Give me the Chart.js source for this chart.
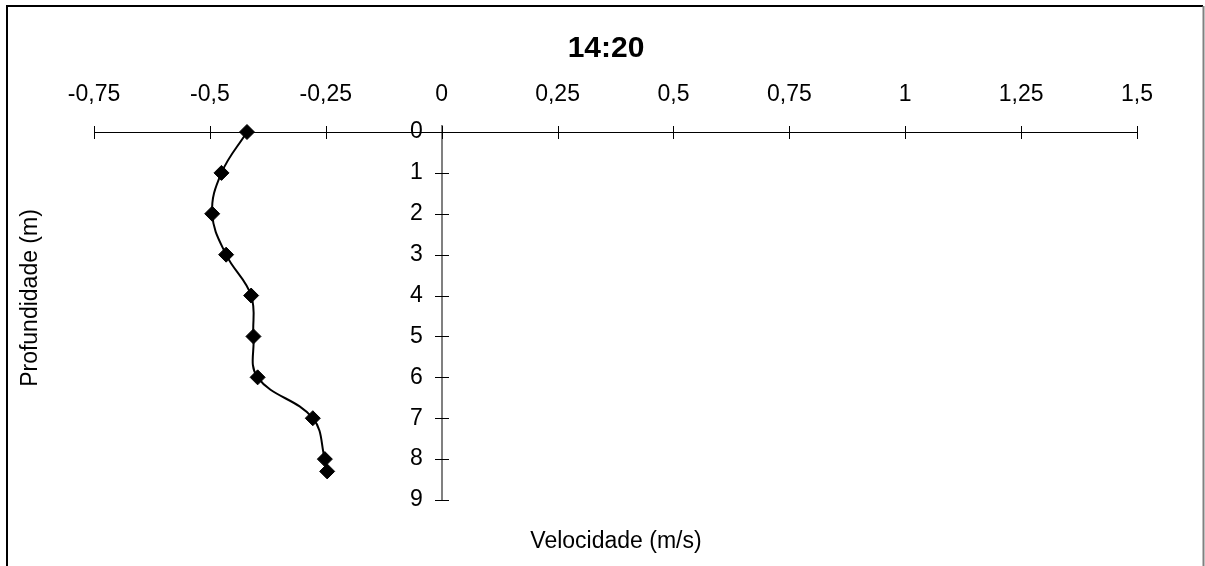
<!DOCTYPE html>
<html>
<head>
<meta charset="utf-8">
<script src="https://cdn.jsdelivr.net/npm/chart.js@4/dist/chart.umd.min.js"></script>
<style>
  html, body { margin: 0; padding: 0; background: #fff; }
  #wrap { width: 1205px; height: 566px; position: relative; }
</style>
</head>
<body>
<div id="wrap"><canvas id="c" width="1205" height="566"></canvas></div>
<script>
// ---- data ----
const chartTitle = '14:20';
const xAxisTitle = 'Velocidade (m/s)';
const yAxisTitle = 'Profundidade (m)';
const depth = [0, 1, 2, 3, 4, 5, 6, 7, 8, 8.3];
const velocity = [-0.42, -0.475, -0.495, -0.465, -0.411, -0.406, -0.397, -0.278, -0.252, -0.247];
const xTickValues = [-0.75, -0.5, -0.25, 0, 0.25, 0.5, 0.75, 1, 1.25, 1.5];
const xTickLabels = ['-0,75', '-0,5', '-0,25', '0', '0,25', '0,5', '0,75', '1', '1,25', '1,5'];
const yTickValues = [0, 1, 2, 3, 4, 5, 6, 7, 8, 9];
const yTickLabels = ['0', '1', '2', '3', '4', '5', '6', '7', '8', '9'];

const FONT = 'Liberation Sans, Arial, sans-serif';
const TICK_FONT_SIZE = 23;

const points = depth.map((d, i) => ({ x: velocity[i], y: d }));

const decorPlugin = {
  id: 'decor',
  afterLayout(chart) {
    // place y tick labels to the left of the axis (object-positioned axes ignore padding)
    const ys = chart.scales.y;
    const items = ys.getLabelItems(chart.chartArea);
    items.forEach(it => { it.options.translation[0] -= 19; });
  },
  beforeDraw(chart) {
    const ctx = chart.ctx;
    ctx.save();
    ctx.fillStyle = '#fff';
    ctx.fillRect(0, 0, chart.width, chart.height);
    // frame
    ctx.lineWidth = 2;
    ctx.strokeStyle = '#000';
    ctx.beginPath();
    ctx.moveTo(7, 566);
    ctx.lineTo(7, 6);
    ctx.lineTo(1203, 6);
    ctx.stroke();
    ctx.strokeStyle = '#808080';
    ctx.beginPath();
    ctx.moveTo(1203.5, 6);
    ctx.lineTo(1203.5, 566);
    ctx.stroke();
    // title
    ctx.fillStyle = '#000';
    ctx.font = 'bold 30px ' + FONT;
    ctx.textAlign = 'center';
    ctx.textBaseline = 'alphabetic';
    ctx.fillText(chartTitle, 606, 57);
    ctx.restore();
  },
  afterDraw(chart) {
    const ctx = chart.ctx;
    const xs = chart.scales.x, ys = chart.scales.y;
    const x0 = Math.round(xs.getPixelForValue(0));
    const yTop = Math.round(ys.getPixelForValue(0));
    ctx.save();
    // y axis line extension above the x axis
    ctx.strokeStyle = '#808080';
    ctx.lineWidth = 2;
    ctx.beginPath();
    ctx.moveTo(x0, yTop - 7);
    ctx.lineTo(x0, yTop);
    ctx.stroke();
    ctx.strokeStyle = '#000';
    ctx.lineWidth = 1;
    // x tick marks (cross)
    xs.ticks.forEach(t => {
      const px = Math.round(xs.getPixelForValue(t.value)) + 0.5;
      ctx.beginPath();
      ctx.moveTo(px, yTop - 6);
      ctx.lineTo(px, yTop + 7);
      ctx.stroke();
    });
    // y tick marks (cross)
    ys.ticks.forEach(t => {
      const py = Math.round(ys.getPixelForValue(t.value)) + 0.5;
      ctx.beginPath();
      ctx.moveTo(x0 - 7, py);
      ctx.lineTo(x0 + 7, py);
      ctx.stroke();
    });
    // axis titles
    ctx.fillStyle = '#000';
    ctx.font = TICK_FONT_SIZE + 'px ' + FONT;
    ctx.textAlign = 'center';
    ctx.textBaseline = 'middle';
    ctx.fillText(xAxisTitle, 616, 542);
    ctx.translate(31, 298);
    ctx.rotate(-Math.PI / 2);
    ctx.fillText(yAxisTitle, 0, 0);
    ctx.restore();
  }
};

new Chart(document.getElementById('c'), {
  type: 'scatter',
  data: {
    datasets: [{
      data: points,
      showLine: true,
      borderColor: '#000',
      borderWidth: 2,
      tension: 0.4,
      pointStyle: 'rectRot',
      pointRadius: 7.5,
      pointBackgroundColor: '#000',
      pointBorderColor: '#000',
      pointBorderWidth: 1,
      clip: false
    }]
  },
  options: {
    responsive: false,
    animation: false,
    devicePixelRatio: 1,
    layout: { padding: { left: 94, right: 68, top: 62.6, bottom: 66 } },
    plugins: {
      legend: { display: false },
      tooltip: { enabled: false },
      title: { display: false }
    },
    scales: {
      x: {
        type: 'linear',
        position: 'top',
        min: -0.75,
        max: 1.5,
        afterBuildTicks(s) { s.ticks = xTickValues.map(v => ({ value: v })); },
        afterFit(s) { s.height = 69.4; },
        ticks: {
          color: '#000',
          font: { family: FONT, size: TICK_FONT_SIZE },
          padding: 24,
          maxRotation: 0,
          autoSkip: false,
          callback: (v) => xTickLabels[xTickValues.indexOf(v)]
        },
        grid: { display: false, drawTicks: false },
        border: { display: true, color: '#000', width: 1 }
      },
      y: {
        type: 'linear',
        position: { x: 0 },
        reverse: true,
        min: 0,
        max: 9,
        afterBuildTicks(s) { s.ticks = yTickValues.map(v => ({ value: v })); },
        ticks: {
          color: '#000',
          font: { family: FONT, size: TICK_FONT_SIZE },
          autoSkip: false,
          callback: (v) => yTickLabels[yTickValues.indexOf(v)]
        },
        grid: { display: false, drawTicks: false },
        border: { display: true, color: '#808080', width: 2 }
      }
    }
  },
  plugins: [decorPlugin]
});
</script>
</body>
</html>
